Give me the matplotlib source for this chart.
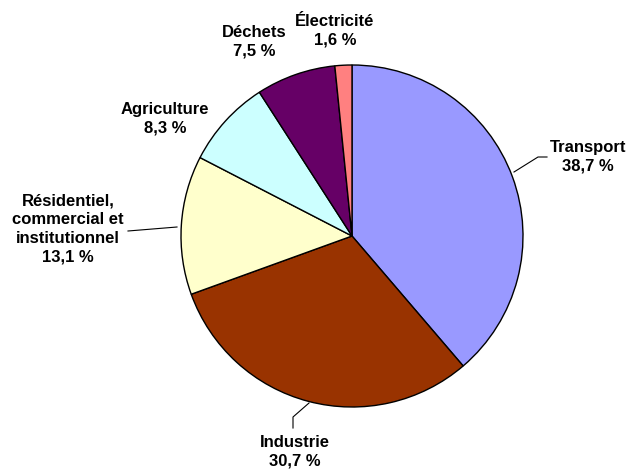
import matplotlib
matplotlib.use('Agg')
import matplotlib.pyplot as plt

# data
categories = ['Transport', 'Industrie', 'Résidentiel,\ncommercial et\ninstitutionnel',
              'Agriculture', 'Déchets', 'Électricité']
shares = [38.7, 30.7, 13.1, 8.3, 7.5, 1.6]
colors = ['#9999FF', '#993300', '#FFFFCC', '#CCFFFF', '#660066', '#FF8080']

W, H = 634, 473


def py(y):
    # image pixel row -> axes y (y up)
    return H - y


fig = plt.figure(figsize=(W / 100, H / 100), dpi=100)
ax = fig.add_axes([0, 0, 1, 1])

ax.pie(shares, colors=colors, startangle=90, counterclock=False,
       center=(352, py(236)), radius=171,
       wedgeprops={'edgecolor': 'black', 'linewidth': 1.0})

# pie() resets the limits, so set them afterwards
ax.set_xlim(0, W)
ax.set_ylim(0, H)
ax.set_aspect('equal')
ax.axis('off')

# label positions (text centre) and leader lines, in image pixels
label_pos = [(588, 157), (295, 452), (68, 229), (165, 119), (254, 42), (335, 31)]
leaders = [
    [(514, 172), (538, 157), (547, 157)],
    [(309, 403), (293, 417), (293, 428)],
    [(177, 227), (128, 231)],
    None, None, None,
]

font = {'family': ['Liberation Sans', 'DejaVu Sans'], 'weight': 'bold', 'size': 12}
for cat, val, (x, y), ld in zip(categories, shares, label_pos, leaders):
    txt = '{}\n{} %'.format(cat, ('%.1f' % val).replace('.', ','))
    ax.text(x, py(y), txt, ha='center', va='center', linespacing=1.3, **font)
    if ld:
        ax.plot([p[0] for p in ld], [py(p[1]) for p in ld], color='black', lw=0.8)

fig.savefig('out.png', dpi=100)
